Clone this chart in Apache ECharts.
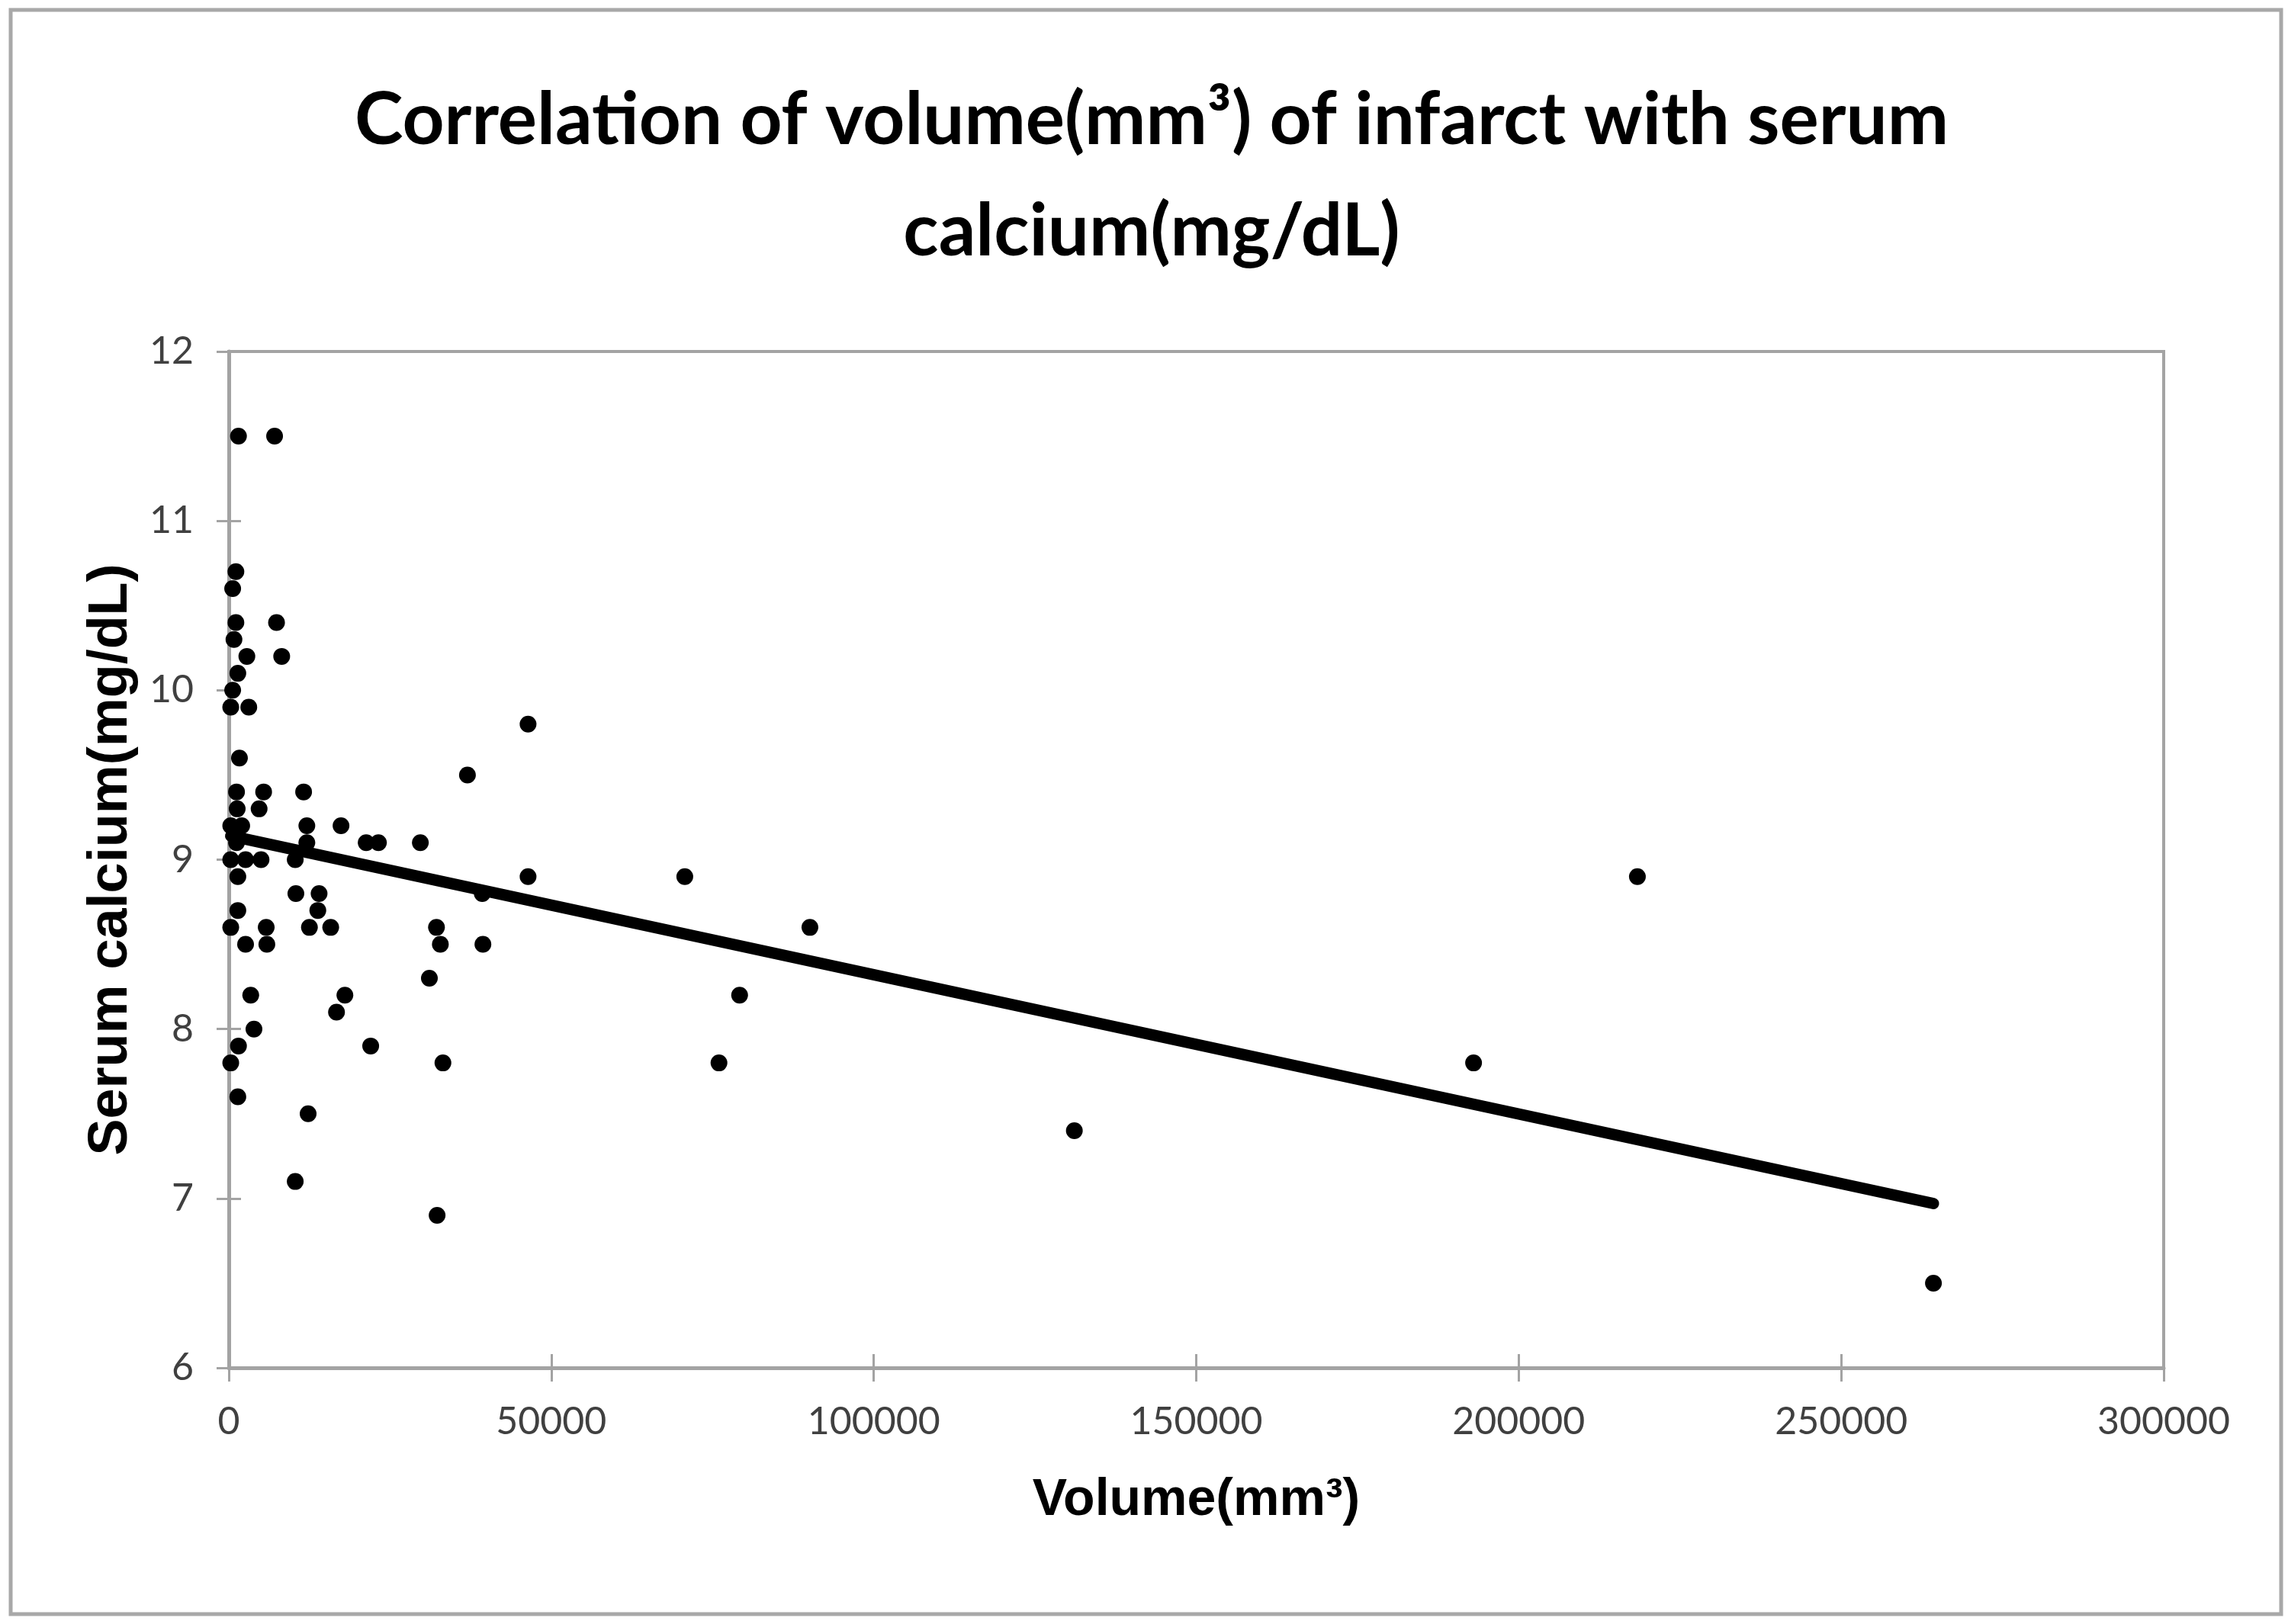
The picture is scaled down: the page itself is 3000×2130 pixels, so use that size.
<!DOCTYPE html>
<html>
<head>
<meta charset="utf-8">
<script src="https://cdn.jsdelivr.net/npm/echarts@6/dist/echarts.min.js"></script>
<style>
html,body{margin:0;padding:0;background:#fff;}
#chart{width:3000px;height:2130px;}
</style>
</head>
<body>
<div id="chart"></div>
<script>
// Volume of infarct (mm^3)
const volumes = [
  1500, 7100, 1100, 600, 1100, 7400, 800, 2800, 8200, 1400,
  600, 300, 3100, 1650, 1200, 5400, 11600, 1300, 4700, 300,
  2000, 12100, 17400, 1200, 12100, 21300, 23200, 29700, 300, 2600,
  5000, 10300, 1400, 46400, 10400, 14000, 39300, 1400, 13800, 300,
  5800, 12500, 15800, 32200, 2600, 5900, 32800, 39400, 31100, 3400,
  18000, 16700, 3900, 1500, 22000, 300, 33200, 1400, 12300, 10300,
  32300, 70700, 90100, 79200, 76000, 131100, 37000, 46400, 193000, 218400,
  264300
];
// Serum calcium (mg/dL)
const calcium = [
  11.5, 11.5, 10.7, 10.6, 10.4, 10.4, 10.3, 10.2, 10.2, 10.1,
  10.0, 9.9, 9.9, 9.6, 9.4, 9.4, 9.4, 9.3, 9.3, 9.2,
  9.2, 9.2, 9.2, 9.1, 9.1, 9.1, 9.1, 9.1, 9.0, 9.0,
  9.0, 9.0, 8.9, 8.9, 8.8, 8.8, 8.8, 8.7, 8.7, 8.6,
  8.6, 8.6, 8.6, 8.6, 8.5, 8.5, 8.5, 8.5, 8.3, 8.2,
  8.2, 8.1, 8.0, 7.9, 7.9, 7.8, 7.8, 7.6, 7.5, 7.1,
  6.9, 8.9, 8.6, 8.2, 7.8, 7.4, 9.5, 9.8, 7.8, 8.9,
  6.5
];
// Linear trendline end points
const trendX = [300, 264300];
const trendY = [9.14, 6.97];

const titleText = 'Correlation of volume(mm\u00B3) of infarct with serum\ncalcium(mg/dL)';
const xName = 'Volume(mm\u00B3)';
const yName = 'Serum calcium(mg/dL)';

const points = volumes.map((v, i) => [v, calcium[i]]);
const trend = trendX.map((v, i) => [v, trendY[i]]);

const titleFont = "Lato,'Noto Sans',sans-serif";
const tickFont = "Lato,'Noto Sans',sans-serif";
const arial = "'Liberation Sans',Arial,sans-serif";
const axisGray = '#a3a3a3';

const chart = echarts.init(document.getElementById('chart'), null, {renderer: 'canvas'});
chart.setOption({
  backgroundColor: '#ffffff',
  animation: false,
  title: {
    text: titleText,
    left: 1505,
    top: 80,
    textAlign: 'center',
    textStyle: {
      fontFamily: titleFont,
      fontWeight: 'bold',
      fontSize: 96,
      lineHeight: 146,
      color: '#000'
    }
  },
  graphic: [{
    type: 'rect',
    shape: {x: 14, y: 13, width: 2977, height: 2104},
    style: {fill: 'none', stroke: '#a8a8a8', lineWidth: 5},
    silent: true
  }],
  grid: {
    left: 300, right: 163, top: 461, bottom: 336,
    show: true, borderColor: axisGray, borderWidth: 4, backgroundColor: 'transparent'
  },
  xAxis: [{
    type: 'value', position: 'bottom',
    min: 0, max: 300000, interval: 50000,
    splitLine: {show: false},
    axisLine: {show: true, lineStyle: {color: axisGray, width: 5}},
    axisTick: {show: true, inside: false, length: 18, lineStyle: {color: axisGray, width: 3}},
    axisLabel: {fontFamily: tickFont, fontSize: 50, color: '#404040', margin: 46,
      formatter: function (v) { return String(v); }},
    name: xName, nameLocation: 'middle', nameGap: 140,
    nameTextStyle: {fontFamily: arial, fontWeight: 'bold', fontSize: 68, color: '#000'}
  }, {
    type: 'value', position: 'bottom',
    min: 0, max: 300000, interval: 50000,
    splitLine: {show: false},
    axisLine: {show: false},
    axisTick: {show: true, inside: true, length: 18, lineStyle: {color: axisGray, width: 3}},
    axisLabel: {show: false}
  }],
  yAxis: [{
    type: 'value', position: 'left',
    min: 6, max: 12, interval: 1,
    splitLine: {show: false},
    axisLine: {show: true, lineStyle: {color: axisGray, width: 5}},
    axisTick: {show: true, inside: false, length: 16, lineStyle: {color: axisGray, width: 3}},
    axisLabel: {fontFamily: tickFont, fontSize: 50, color: '#404040', margin: 46},
    name: yName, nameLocation: 'middle', nameGap: 118, nameRotate: 90,
    nameTextStyle: {fontFamily: arial, fontWeight: 'bold', fontSize: 72, color: '#000'}
  }, {
    type: 'value', position: 'left',
    min: 6, max: 12, interval: 1,
    splitLine: {show: false},
    axisLine: {show: false},
    axisTick: {show: true, inside: true, length: 16, lineStyle: {color: axisGray, width: 3}},
    axisLabel: {show: false}
  }],
  series: [{
    type: 'scatter',
    data: points,
    symbol: 'circle',
    symbolSize: 22,
    itemStyle: {color: '#000', opacity: 1},
    z: 3
  }, {
    type: 'line',
    data: trend,
    showSymbol: false,
    symbol: 'none',
    lineStyle: {color: '#000', width: 15, cap: 'round'},
    z: 4
  }]
});
</script>
</body>
</html>
